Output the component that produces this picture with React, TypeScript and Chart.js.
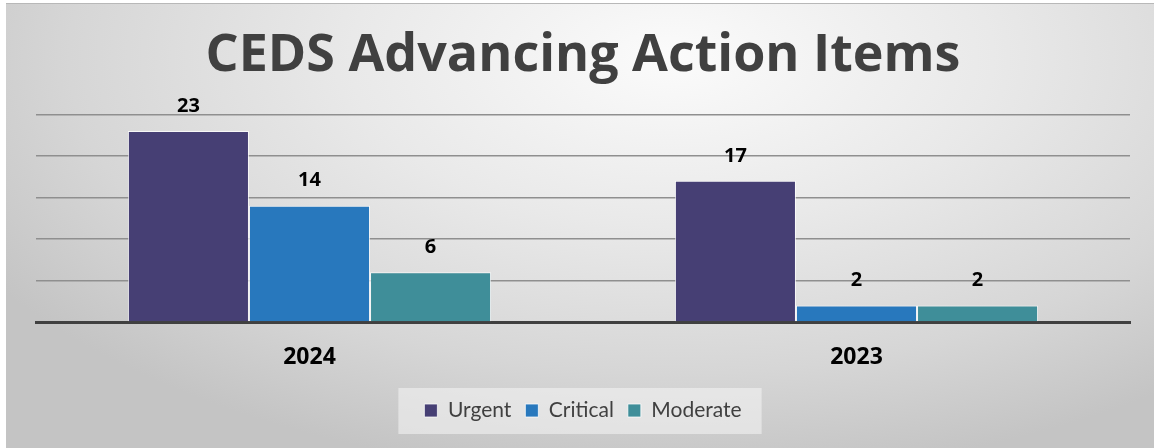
import React, { useEffect, useRef } from "react";
import { Chart, registerables } from "chart.js";

Chart.register(...registerables);

const categories = ["2024", "2023"];
const urgent = [23, 17];
const critical = [14, 2];
const moderate = [6, 2];
const yTicks = [0, 5, 10, 15, 20, 25];
const titleText = "CEDS Advancing Action Items";

const dataLabels = {
  id: "dataLabels",
  afterDatasetsDraw(chart: any) {
    const ctx = chart.ctx;
    ctx.save();
    ctx.font = "bold 20px 'Open Sans', sans-serif";
    ctx.fillStyle = "#000000";
    ctx.textAlign = "center";
    ctx.textBaseline = "middle";
    chart.data.datasets.forEach((ds: any, i: number) => {
      const meta = chart.getDatasetMeta(i);
      meta.data.forEach((el: any, j: number) => {
        ctx.fillText(String(ds.data[j]), el.x, el.y - 25);
      });
    });
    ctx.restore();
  },
};

const legendBg = {
  id: "legendBg",
  beforeDraw(chart: any) {
    const lg = chart.legend;
    if (!lg || !lg.legendHitBoxes || !lg.legendHitBoxes.length) return;
    const boxes = lg.legendHitBoxes;
    let l = Infinity, r = -Infinity, t = Infinity, b = -Infinity;
    boxes.forEach((h: any) => {
      l = Math.min(l, h.left);
      r = Math.max(r, h.left + h.width);
      t = Math.min(t, h.top);
      b = Math.max(b, h.top + h.height);
    });
    const ctx = chart.ctx;
    ctx.save();
    ctx.fillStyle = "rgba(245,245,245,0.55)";
    ctx.fillRect(l - 26, t - 12, r - l + 46, b - t + 25);
    ctx.restore();
  },
};

export default function App() {
  const ref = useRef<HTMLCanvasElement | null>(null);
  useEffect(() => {
    if (!ref.current) return;
    const chart = new Chart(ref.current, {
      type: "bar",
      data: {
        labels: categories,
        datasets: [
          { label: "Urgent", data: urgent, backgroundColor: "#463F74" },
          { label: "Critical", data: critical, backgroundColor: "#2878BD" },
          { label: "Moderate", data: moderate, backgroundColor: "#3F8E99" },
        ].map((d) => ({
          ...d,
          borderColor: "rgba(255,255,255,0.75)",
          borderWidth: 1,
          categoryPercentage: 0.664,
          barPercentage: 1,
        })),
      },
      options: {
        animation: false,
        responsive: false,
        maintainAspectRatio: false,
        layout: { padding: { left: 36, right: 24, top: 0, bottom: 17 } },
        plugins: {
          tooltip: { enabled: false },
          title: {
            display: true,
            text: titleText,
            color: "#404040",
            font: { family: "'Open Sans', sans-serif", size: 52, weight: "bold" },
            padding: { top: 25, bottom: 27 },
          },
          legend: {
            position: "bottom",
            labels: {
              boxWidth: 13,
              boxHeight: 13,
              color: "#404040",
              padding: 14,
              font: { family: "Lato, 'Open Sans', sans-serif", size: 21 },
            },
          },
        },
        scales: {
          x: {
            grid: { display: false },
            border: { display: true, color: "#404040", width: 3 },
            ticks: {
              color: "#000000",
              padding: 14,
              font: { family: "'Open Sans', sans-serif", size: 23, weight: "bold" },
            },
            afterFit: (axis: any) => {
              axis.height = 64;
            },
          },
          y: {
            min: yTicks[0],
            max: yTicks[yTicks.length - 1],
            afterBuildTicks: (axis: any) => {
              axis.ticks = yTicks.map((v) => ({ value: v }));
            },
            ticks: { display: false },
            border: { display: false },
            grid: {
              drawTicks: false,
              color: (c: any) => (c.tick && c.tick.value === 0 ? "rgba(0,0,0,0)" : "#8f8f8f"),
              lineWidth: 1.5,
            },
          },
        },
      },
      plugins: [dataLabels, legendBg],
    } as any);
    return () => chart.destroy();
  }, []);

  return (
    <div style={{ position: "fixed", left: 0, top: 0, width: 1154, height: 448, background: "#ffffff" }}>
      <div
        style={{
          position: "absolute",
          left: 6,
          top: 3,
          right: 0,
          bottom: 0,
          borderTop: "1px solid #b8b8b8",
          background:
            "radial-gradient(ellipse 70% 95% at 58% 12%, #fbfbfb 0%, #e9e9e9 40%, #d6d6d6 75%, #c4c4c4 100%)",
        }}
      />
      <canvas ref={ref} width={1154} height={448} style={{ position: "absolute", left: 0, top: 0 }} />
    </div>
  );
}
